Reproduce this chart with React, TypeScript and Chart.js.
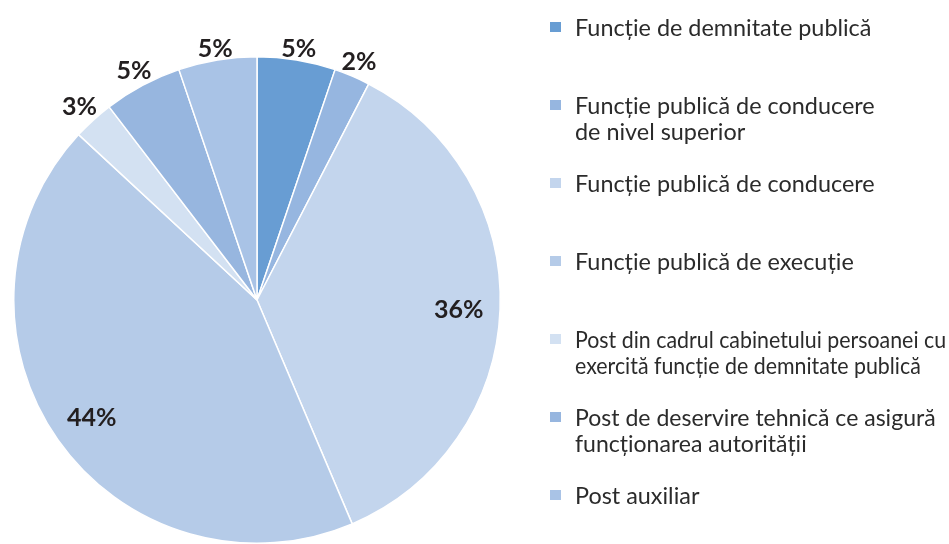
import React, { useEffect, useRef } from "react";
import { Chart, registerables } from "chart.js";

Chart.register(...registerables);

const categories: string[][] = [
  ["Funcție de demnitate publică"],
  ["Funcție publică de conducere", "de nivel superior"],
  ["Funcție publică de conducere"],
  ["Funcție publică de execuție"],
  ["Post din cadrul cabinetului persoanei cu", "exercită funcție de demnitate publică"],
  ["Post de deservire tehnică ce asigură", "funcționarea autorității"],
  ["Post auxiliar"],
];

const values: number[] = [5.2, 2.4, 36.0, 43.3, 2.7, 5.2, 5.2];
const percentLabels: string[] = ["5%", "2%", "36%", "44%", "3%", "5%", "5%"];

const sliceColors: string[] = [
  "#689dd3",
  "#96b6e0",
  "#c3d5ed",
  "#b5cbe8",
  "#d3e1f2",
  "#97b6df",
  "#a9c3e6",
];

const FONT = "Lato, 'Open Sans', sans-serif";

const sliceLabelPlugin = {
  id: "sliceLabels",
  afterDatasetsDraw(chart: any) {
    const ctx = chart.ctx;
    const meta = chart.getDatasetMeta(0);
    ctx.save();
    ctx.font = `bold 25px ${FONT}`;
    ctx.fillStyle = "#231f20";
    ctx.textAlign = "center";
    ctx.textBaseline = "middle";
    meta.data.forEach((arc: any, i: number) => {
      const p = arc.getProps(["x", "y", "startAngle", "endAngle", "outerRadius"], true);
      const mid = (p.startAngle + p.endAngle) / 2;
      const text = percentLabels[i];
      const hw = ctx.measureText(text).width / 2;
      const hh = 9;
      let r: number;
      if (values[i] > 10) {
        r = p.outerRadius * 0.83;
      } else {
        r = p.outerRadius + 2 + Math.abs(Math.cos(mid)) * hw + Math.abs(Math.sin(mid)) * hh;
      }
      ctx.fillText(text, p.x + Math.cos(mid) * r, p.y + Math.sin(mid) * r + 2);
    });
    ctx.restore();
  },
};

function Legend() {
  const firstCenter = 26.7;
  const step = 78;
  return (
    <div style={{ position: "absolute", left: 550, top: 0, width: 399, height: 544, overflow: "hidden" }}>
      {categories.map((lines, i) => (
        <div
          key={i}
          style={{
            position: "absolute",
            left: 0,
            top: firstCenter + step * i - 13,
            display: "flex",
            alignItems: "flex-start",
          }}
        >
          <div
            style={{
              width: 11,
              height: 10,
              marginTop: 8,
              background: sliceColors[i],
              flex: "0 0 auto",
            }}
          />
          <div
            style={{
              marginLeft: 14,
              fontFamily: FONT,
              fontSize: 23.4,
              lineHeight: "26px",
              color: "#2b2b2b",
              whiteSpace: "nowrap",
              transform: i === 4 ? "scaleX(0.913)" : i === 5 ? "scaleX(0.985)" : undefined,
              transformOrigin: "left center",
            }}
          >
            {lines.map((l, j) => (
              <div key={j}>{l}</div>
            ))}
          </div>
        </div>
      ))}
    </div>
  );
}

export default function App() {
  const canvasRef = useRef<HTMLCanvasElement | null>(null);

  useEffect(() => {
    if (!canvasRef.current) return;
    const chart = new Chart(canvasRef.current, {
      type: "pie",
      data: {
        labels: categories.map((l) => l.join(" ")),
        datasets: [
          {
            data: values,
            backgroundColor: sliceColors,
            borderColor: "#ffffff",
            borderWidth: 1.5,
          },
        ],
      },
      options: {
        responsive: true,
        maintainAspectRatio: false,
        animation: false,
        layout: { padding: { left: 13, top: 56, right: 448, bottom: 0 } },
        plugins: {
          legend: { display: false },
          tooltip: { enabled: false },
        },
      },
      plugins: [sliceLabelPlugin],
    });
    return () => chart.destroy();
  }, []);

  return (
    <div style={{ position: "absolute", left: 0, top: 0, width: 949, height: 544, background: "#ffffff", overflow: "hidden" }}>
      <div style={{ position: "absolute", left: 0, top: 0, width: 949, height: 544 }}>
        <canvas ref={canvasRef} />
      </div>
      <Legend />
    </div>
  );
}
